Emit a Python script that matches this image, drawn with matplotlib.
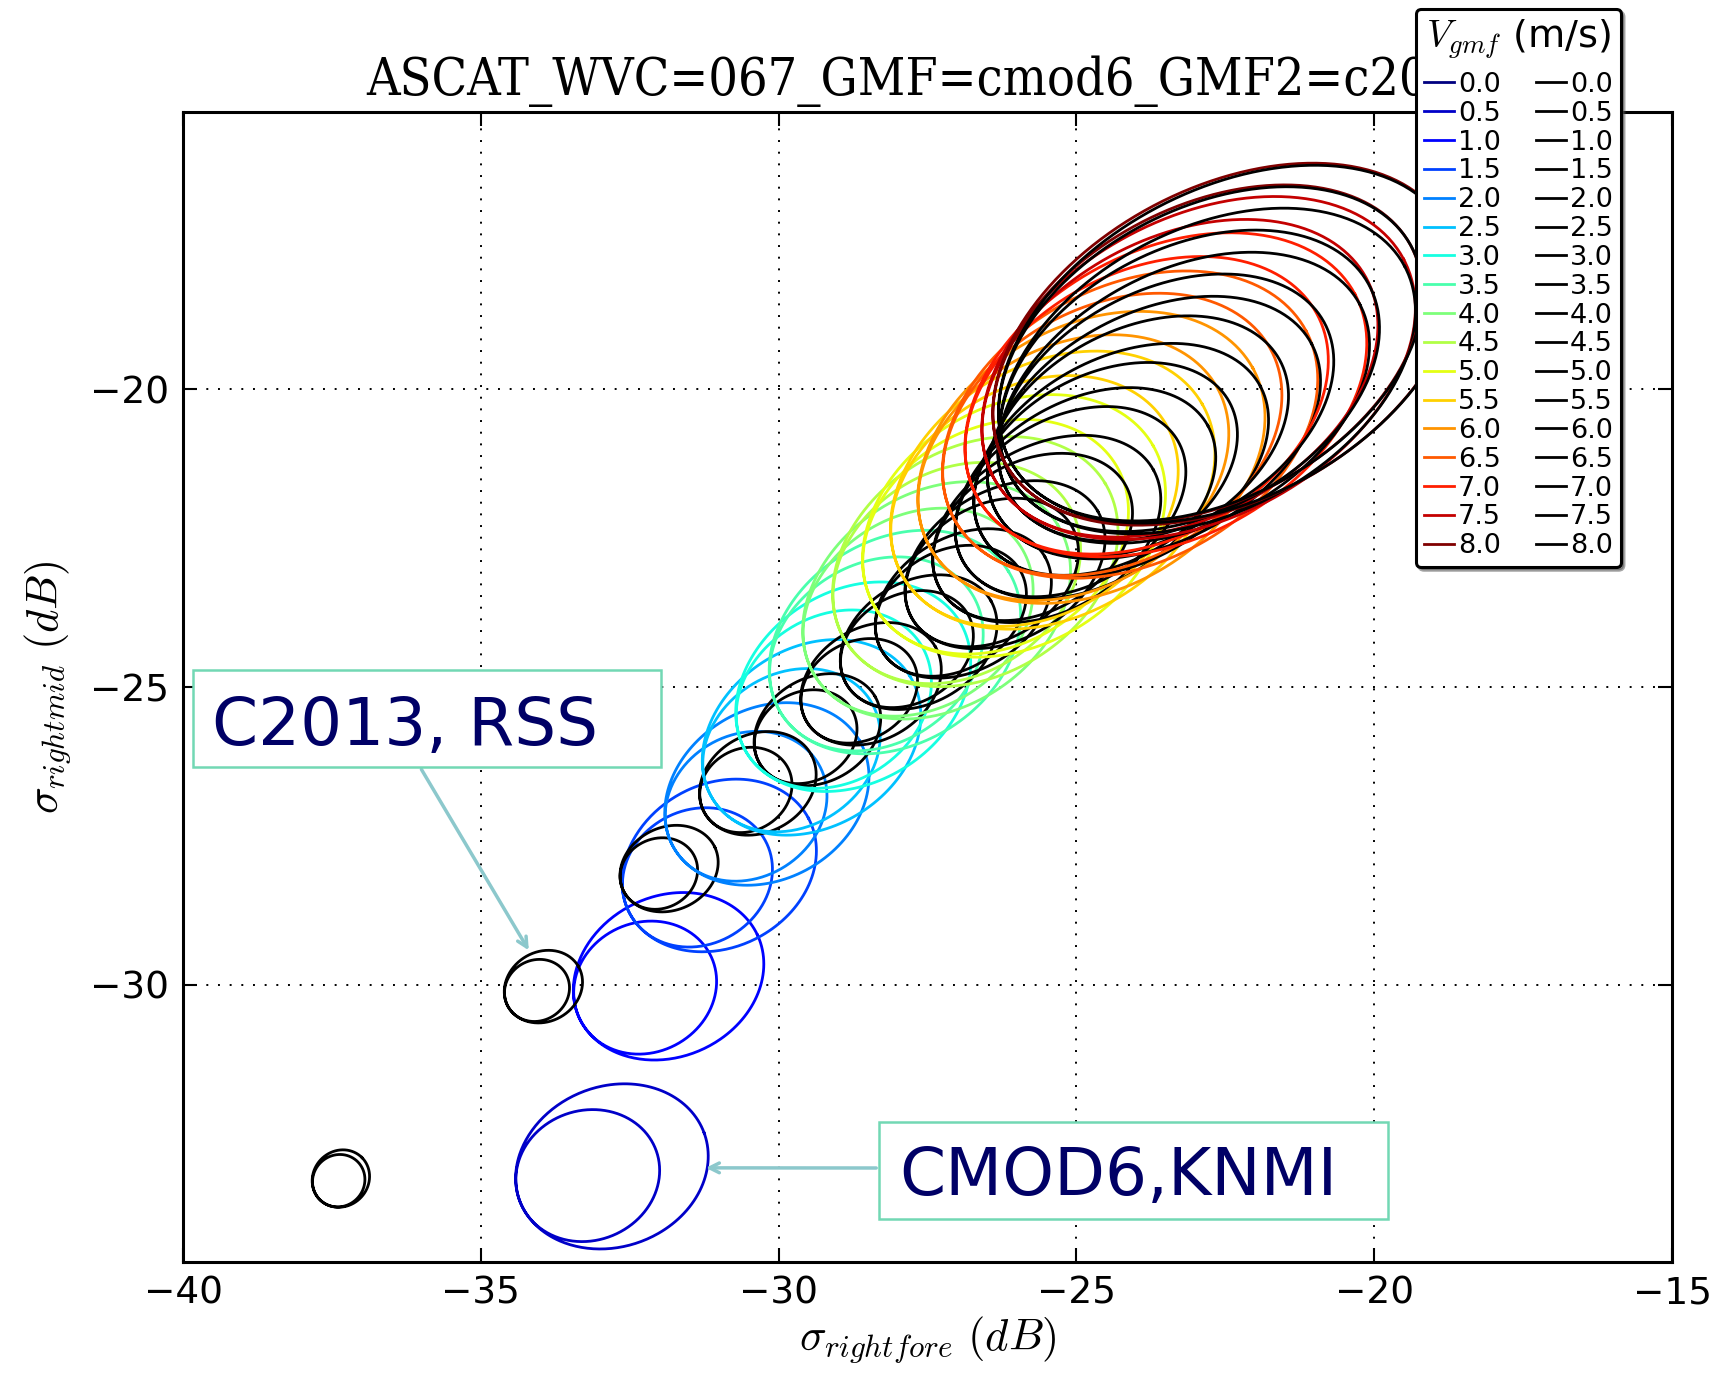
import numpy as np
import matplotlib
matplotlib.use('Agg')
import matplotlib.pyplot as plt
from matplotlib.lines import Line2D
from matplotlib.patches import Rectangle

plt.rcParams['mathtext.fontset'] = 'cm'
plt.rcParams['font.family'] = ['DejaVu Sans']

# wind speeds of the rings (m/s)
speeds = [0.0, 0.5, 1.0, 1.5, 2.0, 2.5, 3.0, 3.5, 4.0, 4.5, 5.0, 5.5, 6.0, 6.5, 7.0, 7.5, 8.0]

# CMOD6 (KNMI) rings: centre of the upwind loop, semi axes, tilt, downwind/upwind loop ratio
cmod_xc = [np.nan, -32.80, -31.85, -31.00, -30.20, -29.45, -28.75, -28.05, -27.35,
           -26.70, -26.05, -25.40, -24.75, -24.10, -23.50, -22.95, -22.50]
cmod_yc = [np.nan, -33.05, -29.86, -28.00, -26.80, -25.85, -25.00, -24.25, -23.55,
           -22.90, -22.30, -21.70, -21.15, -20.60, -20.10, -19.65, -19.25]
cmod_a = [np.nan, 1.65, 1.65, 1.70, 1.80, 1.95, 2.10, 2.25, 2.40,
          2.55, 2.70, 2.90, 3.10, 3.35, 3.60, 3.90, 4.20]
cmod_b = [np.nan, 1.40, 1.40, 1.42, 1.48, 1.55, 1.65, 1.75, 1.85,
          1.95, 2.05, 2.15, 2.25, 2.35, 2.45, 2.55, 2.65]
cmod_tilt = [np.nan, 20, 25, 28, 30, 32, 32, 32, 32, 31, 30, 30, 29, 28, 28, 28, 28]
cmod_ratio = [np.nan, 0.74, 0.74, 0.76, 0.78, 0.80, 0.82, 0.84, 0.85,
              0.86, 0.87, 0.88, 0.89, 0.90, 0.90, 0.91, 0.92]

# C2013 (RSS) rings
c2013_xc = [np.nan, -37.35, -33.95, -31.84, -30.35, -29.35, -28.45, -27.65, -26.90,
            -26.20, -25.50, -24.85, -24.25, -23.70, -23.20, -22.80, -22.45]
c2013_yc = [np.nan, -33.25, -30.03, -28.05, -26.62, -25.72, -24.95, -24.25, -23.60,
            -22.95, -22.35, -21.75, -21.20, -20.65, -20.15, -19.70, -19.25]
c2013_a = [np.nan, 0.50, 0.68, 0.85, 1.02, 1.12, 1.25, 1.40, 1.58,
           1.80, 2.05, 2.35, 2.65, 3.00, 3.35, 3.75, 4.15]
c2013_b = [np.nan, 0.47, 0.60, 0.72, 0.85, 0.90, 0.97, 1.05, 1.15,
           1.28, 1.42, 1.58, 1.75, 1.95, 2.15, 2.40, 2.62]
c2013_tilt = [np.nan, 45, 30, 25, 28, 30, 30, 30, 30, 30, 29, 29, 28, 28, 28, 28, 28]
c2013_ratio = [np.nan, 0.90, 0.82, 0.78, 0.78, 0.80, 0.82, 0.84, 0.85,
               0.86, 0.87, 0.88, 0.89, 0.90, 0.90, 0.91, 0.92]


def ring(xc, yc, a, b, tilt, ratio, n=600):
    # two loops over 0..720 deg; both share the low (crosswind) end of the major axis
    t = np.linspace(0, 4 * np.pi, n)
    th = np.radians(tilt)
    ex = a * np.cos(t)
    ey = b * np.sin(t)
    px = ex * np.cos(th) - ey * np.sin(th)
    py = ex * np.sin(th) + ey * np.cos(th)
    ax0, ay0 = -a * np.cos(th), -a * np.sin(th)
    s = (1 + ratio) / 2 + (1 - ratio) / 2 * np.cos(t / 2)
    return xc + ax0 + s * (px - ax0), yc + ay0 + s * (py - ay0)


fig = plt.figure(figsize=(17.2, 13.76), dpi=100)
ax = fig.add_axes([183 / 1720, 114 / 1376, 1489 / 1720, 1150 / 1376])

colors = [plt.cm.jet(i / (len(speeds) - 1)) for i in range(len(speeds))]

for i in range(len(speeds)):
    if not np.isnan(cmod_xc[i]):
        x, y = ring(cmod_xc[i], cmod_yc[i], cmod_a[i], cmod_b[i], cmod_tilt[i], cmod_ratio[i])
        ax.plot(x, y, color=colors[i], lw=2.0)
    if not np.isnan(c2013_xc[i]):
        x, y = ring(c2013_xc[i], c2013_yc[i], c2013_a[i], c2013_b[i], c2013_tilt[i], c2013_ratio[i])
        ax.plot(x, y, color='k', lw=2.0)

ax.set_xlim(-40, -15)
ax.set_ylim(-34.65, -15.35)
ax.set_xticks([-40, -35, -30, -25, -20, -15])
ax.set_yticks([-30, -25, -20])
ax.grid(True, color='k', linestyle=(0, (1, 5)), lw=1.4)
ax.tick_params(direction='in', length=10, width=1.5, labelsize=27, pad=10,
               top=True, right=True)
for sp in ax.spines.values():
    sp.set_linewidth(2.2)

ax.set_xlabel(r'$\sigma_{rightfore}\ (dB)$', fontsize=32, labelpad=2)
ax.set_ylabel(r'$\sigma_{rightmid}\ (dB)$', fontsize=32, labelpad=12)
ax.set_title('ASCAT_WVC=067_GMF=cmod6_GMF2=c2013', fontsize=37.3,
             family='DejaVu Serif', fontstretch='condensed', pad=12)

# legend: coloured GMF rings in the first column, black GMF2 rings in the second
handles = [Line2D([], [], color=c, lw=2) for c in colors]
handles += [Line2D([], [], color='k', lw=2) for _ in speeds]
labels = ['%.1f' % v for v in speeds] * 2
leg = fig.legend(handles, labels, ncol=2, loc='upper left',
                 bbox_to_anchor=(1416 / 1720, 1 - 9 / 1376), borderaxespad=0,
                 fontsize=19.5, title=r'$V_{gmf}$ (m/s)', title_fontsize=27.5,
                 labelspacing=0.105, handlelength=1.1, handletextpad=0.15,
                 columnspacing=1.3, borderpad=0.3, fancybox=True, shadow=True,
                 framealpha=1)
leg._legend_box.sep = 8  # a bit more room under the legend title
leg.get_frame().set_edgecolor('k')
leg.get_frame().set_linewidth(2.2)

# callouts naming the two model families
box_col = '#72d8b4'
arrow_col = '#8cc8cc'
txt_col = '#000066'
fig.patches.append(Rectangle((193 / 1720, 609 / 1376), 468 / 1720, 97 / 1376,
                             transform=fig.transFigure, fill=True, fc='white',
                             ec=box_col, lw=1.8, zorder=5))
fig.text(212 / 1720, 631 / 1376, 'C2013, RSS', fontsize=47.5, color=txt_col,
         va='baseline', zorder=6)
fig.patches.append(Rectangle((879 / 1720, 157 / 1376), 509 / 1720, 97 / 1376,
                             transform=fig.transFigure, fill=True, fc='white',
                             ec=box_col, lw=1.8, zorder=5))
fig.text(899 / 1720, 181 / 1376, 'CMOD6,KNMI', fontsize=47.5, color=txt_col,
         va='baseline', zorder=6)

ax.annotate('', xy=(-34.17, -29.46), xycoords='data',
            xytext=(420 / 1720, 609 / 1376), textcoords='figure fraction',
            arrowprops=dict(arrowstyle='->,head_length=0.7,head_width=0.35',
                            color=arrow_col, lw=2.5))
ax.annotate('', xy=(-31.27, -33.07), xycoords='data',
            xytext=(879 / 1720, 208 / 1376), textcoords='figure fraction',
            arrowprops=dict(arrowstyle='->,head_length=0.7,head_width=0.35',
                            color=arrow_col, lw=2.5))

fig.savefig('out.png', dpi=100)
